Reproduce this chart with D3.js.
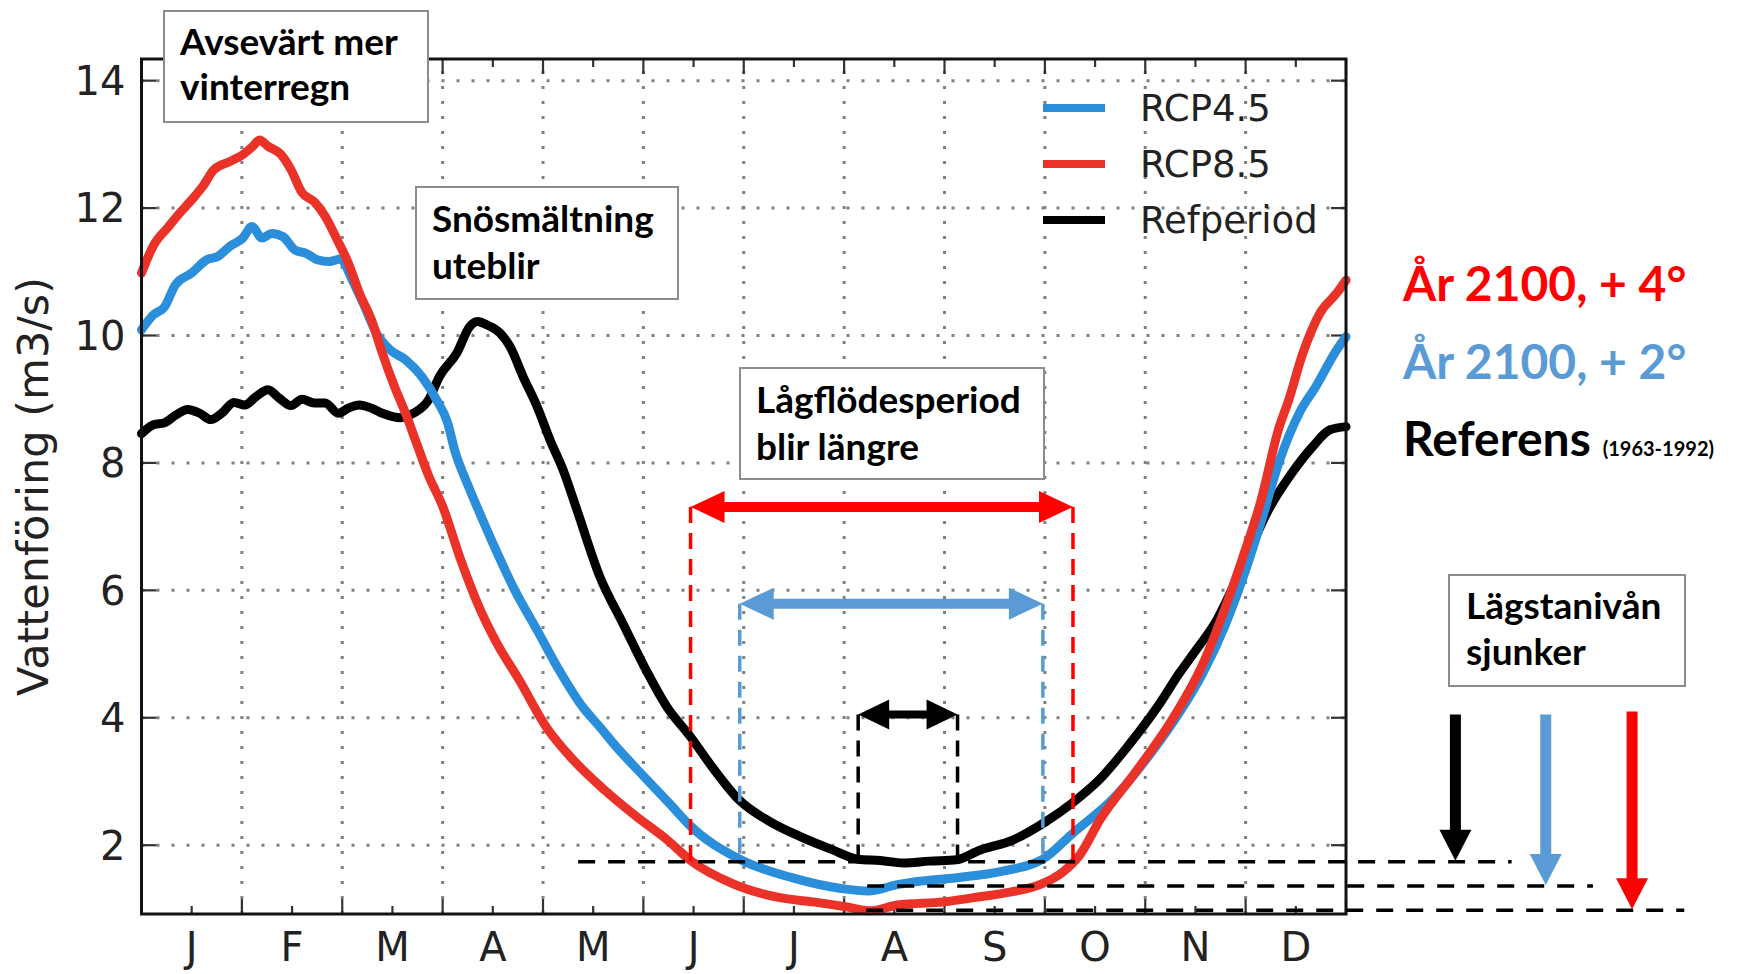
<!DOCTYPE html>
<html><head><meta charset="utf-8">
<script src="https://cdn.jsdelivr.net/npm/d3@7/dist/d3.min.js"></script>
<style>body{margin:0;background:#fff}svg{display:block}</style>
</head><body>
<svg id="c" width="1737" height="974"></svg>
<script>
// ---------- data ----------
const monthLabels = ["J","F","M","A","M","J","J","A","S","O","N","D"];
const yTicks = [2,4,6,8,10,12,14];
const seriesNames = ["RCP4.5","RCP8.5","Refperiod"];

// time in months since 1 Jan (0..12), discharge m3/s
const refT = [0,0.12,0.23,0.34,0.46,0.58,0.69,0.8,0.92,1.03,1.14,1.26,1.37,1.49,1.6,1.72,1.83,1.96,2.06,2.17,2.29,2.4,2.58,2.71,2.86,2.97,3.14,3.27,3.345,3.45,3.57,3.67,3.8,3.94,4.07,4.2,4.33,4.57,4.79,5.01,5.23,5.47,5.68,5.96,6.26,6.57,6.88,7.14,7.36,7.59,7.85,8.12,8.35,8.68,9.01,9.28,9.55,9.82,10.13,10.34,10.5,10.7,10.97,11.24,11.46,11.67,11.84,12];
const refV = [8.46,8.6,8.63,8.75,8.84,8.78,8.68,8.78,8.95,8.91,9.04,9.15,9.02,8.9,9.0,8.94,8.94,8.78,8.86,8.91,8.86,8.78,8.71,8.78,8.99,9.36,9.72,10.14,10.22,10.16,10.04,9.83,9.36,8.89,8.36,7.89,7.3,6.2,5.5,4.8,4.18,3.7,3.24,2.7,2.37,2.13,1.93,1.78,1.76,1.72,1.75,1.77,1.92,2.08,2.37,2.67,3.04,3.54,4.19,4.7,5.05,5.5,6.38,7.3,7.84,8.26,8.52,8.57];

const rcp45T = [0,0.115,0.23,0.34,0.5,0.65,0.76,0.88,1.01,1.1,1.2,1.3,1.41,1.53,1.64,1.75,1.87,1.98,2.1,2.21,2.35,2.48,2.63,2.79,2.94,3.05,3.12,3.25,3.37,3.5,3.72,3.94,4.16,4.39,4.57,4.7,5.01,5.28,5.45,5.96,6.48,6.97,7.24,7.53,7.68,8.12,8.57,8.98,9.28,9.68,10.04,10.34,10.57,10.79,10.97,11.15,11.33,11.54,11.7,11.91,12];
const rcp45V = [10.09,10.32,10.45,10.8,10.98,11.19,11.24,11.4,11.53,11.71,11.53,11.6,11.55,11.34,11.29,11.19,11.16,11.2,10.87,10.5,10.01,9.77,9.62,9.36,8.99,8.63,8.2,7.66,7.21,6.74,6.0,5.38,4.75,4.18,3.85,3.6,3.07,2.62,2.33,1.78,1.49,1.32,1.28,1.38,1.42,1.49,1.59,1.78,2.19,2.73,3.41,4.08,4.69,5.43,6.18,7.05,8.0,8.8,9.2,9.78,9.98];

const rcp85T = [0,0.115,0.27,0.38,0.5,0.61,0.72,0.88,1.01,1.11,1.175,1.26,1.39,1.49,1.6,1.72,1.83,1.95,2.06,2.17,2.29,2.4,2.52,2.63,2.74,2.86,3.0,3.18,3.36,3.54,3.76,4.03,4.3,4.61,4.93,5.24,5.47,5.9,6.35,6.69,7.03,7.26,7.53,7.99,8.35,8.68,8.95,9.18,9.35,9.55,9.9,10.26,10.57,10.79,10.97,11.15,11.33,11.43,11.57,11.74,11.91,12];
const rcp85V = [10.98,11.4,11.71,11.92,12.13,12.34,12.6,12.73,12.84,12.97,13.07,12.97,12.84,12.6,12.24,12.1,11.87,11.5,11.14,10.67,10.25,9.72,9.2,8.78,8.31,7.8,7.32,6.48,5.75,5.17,4.6,3.86,3.34,2.87,2.45,2.08,1.76,1.39,1.18,1.11,1.03,0.97,1.06,1.11,1.19,1.27,1.38,1.58,1.85,2.4,3.14,3.95,4.83,5.7,6.51,7.39,8.54,8.99,9.72,10.35,10.67,10.87];

// annotation values (data units)
const periodStart = [5.47, 5.96, 7.14];   // RCP8.5, RCP4.5, Ref
const periodEnd   = [9.28, 8.98, 8.13];
const periodLevel = [7.31, 5.79, 4.05];
const minLevels   = [1.74, 1.36, 0.98];   // Ref, RCP4.5, RCP8.5
const minLineFrom = [4.35, 7.23, 7.22];
const minLineTo   = [13.65, 14.46, 15.37];
const minArrowX   = [13.09, 13.99, 14.85];
const minArrowTop = [4.05, 4.05, 4.1];

// ---------- drawing ----------
const svg = d3.select("#c");
svg.append("rect").attr("width",1737).attr("height",974).attr("fill","#fff");
const L=141.5,R=1346,T=59,B=914;
const x = d3.scaleLinear().domain([0,12]).range([L,R]);
const y = d3.scaleLinear().domain([0.92,14.34]).range([B,T]);

const C_BLUE="#2a8edb", C_RED="#ea3228", C_BLACK="#000";
const A_RED="#ff0000", A_BLUE="#5b9bd5";

// grid
const grid = svg.append("g").attr("stroke","#808080").attr("stroke-width",3).attr("stroke-dasharray","3,12");
d3.range(1,12).forEach(m=>grid.append("line").attr("x1",x(m)).attr("x2",x(m)).attr("y1",B).attr("y2",T));
yTicks.forEach(v=>grid.append("line").attr("x1",L).attr("x2",R).attr("y1",y(v)).attr("y2",y(v)));

// ticks
const tk = svg.append("g").attr("stroke","#333").attr("stroke-width",2.2);
yTicks.forEach(v=>{
  tk.append("line").attr("x1",L).attr("x2",L+15).attr("y1",y(v)).attr("y2",y(v));
  tk.append("line").attr("x1",R).attr("x2",R-15).attr("y1",y(v)).attr("y2",y(v));
});
d3.range(0,13).forEach(m=>{
  tk.append("line").attr("x1",x(m)).attr("x2",x(m)).attr("y1",B).attr("y2",B-15);
  tk.append("line").attr("x1",x(m)).attr("x2",x(m)).attr("y1",T).attr("y2",T+15);
});
d3.range(0,12).forEach(m=>{
  tk.append("line").attr("x1",x(m+0.5)).attr("x2",x(m+0.5)).attr("y1",B).attr("y2",B-8);
  tk.append("line").attr("x1",x(m+0.5)).attr("x2",x(m+0.5)).attr("y1",T).attr("y2",T+8);
});

// curves
const line = d3.line().x(d=>x(d[0])).y(d=>y(d[1])).curve(d3.curveMonotoneX);
const series = [
  {t:refT,v:refV,c:C_BLACK},
  {t:rcp45T,v:rcp45V,c:C_BLUE},
  {t:rcp85T,v:rcp85V,c:C_RED}
];
series.forEach(s=>{
  svg.append("path").datum(s.t.map((t,i)=>[t,s.v[i]]))
    .attr("d",line).attr("fill","none").attr("stroke",s.c)
    .attr("stroke-width",9).attr("stroke-linejoin","round").attr("stroke-linecap","round");
});

// frame
svg.append("rect").attr("x",L).attr("y",T).attr("width",R-L).attr("height",B-T)
  .attr("fill","none").attr("stroke","#111").attr("stroke-width",3);

// tick labels
const lab = svg.append("g").attr("font-family","DejaVu Sans").attr("fill","#222");
yTicks.forEach(v=>lab.append("text").attr("x",L-16).attr("y",y(v)).attr("dy","0.36em")
  .attr("text-anchor","end").attr("font-size",40).text(v));
monthLabels.forEach((m,i)=>lab.append("text").attr("x",x(i+0.5)).attr("y",961)
  .attr("text-anchor","middle").attr("font-size",40).text(m));
lab.append("text").attr("transform",`translate(33,${(T+B)/2}) rotate(-90)`)
  .attr("text-anchor","middle").attr("dy","0.36em").attr("font-size",43).text("Vattenföring (m3/s)");

// legend
const legC=[C_BLUE,C_RED,C_BLACK], legY=[108,164,220];
seriesNames.forEach((n,i)=>{
  svg.append("line").attr("x1",1043).attr("x2",1105).attr("y1",legY[i]).attr("y2",legY[i])
    .attr("stroke",legC[i]).attr("stroke-width",8);
  svg.append("text").attr("x",1140).attr("y",legY[i]).attr("dy","0.36em")
    .attr("font-family","DejaVu Sans").attr("font-size",37).attr("fill","#222").text(n);
});

// annotations: dashed lines
const ann = svg.append("g");
const vcol=[A_RED,A_BLUE,"#000"];
periodStart.forEach((s,i)=>{
  [s,periodEnd[i]].forEach(t=>{
    ann.append("line").attr("x1",x(t)).attr("x2",x(t)).attr("y1",y(periodLevel[i])).attr("y2",y(minLevels[0]))
      .attr("stroke",vcol[i]).attr("stroke-width",3.5).attr("stroke-dasharray","16,10");
  });
});
minLevels.forEach((v,i)=>{
  ann.append("line").attr("x1",x(minLineFrom[i])).attr("x2",x(minLineTo[i])).attr("y1",y(v)).attr("y2",y(v))
    .attr("stroke","#000").attr("stroke-width",3.5).attr("stroke-dasharray","17,13");
});

function dbl(x1,x2,yy,s,hl,hw,col){
  const p=[[x1,yy],[x1+hl,yy-hw],[x1+hl,yy-s/2],[x2-hl,yy-s/2],[x2-hl,yy-hw],[x2,yy],[x2-hl,yy+hw],[x2-hl,yy+s/2],[x1+hl,yy+s/2],[x1+hl,yy+hw]];
  ann.append("polygon").attr("points",p.map(d=>d.join(",")).join(" ")).attr("fill",col);
}
function down(xx,y1,y2,s,hl,hw,col){
  const p=[[xx-s/2,y1],[xx+s/2,y1],[xx+s/2,y2-hl],[xx+hw,y2-hl],[xx,y2],[xx-hw,y2-hl],[xx-s/2,y2-hl]];
  ann.append("polygon").attr("points",p.map(d=>d.join(",")).join(" ")).attr("fill",col);
}
dbl(x(periodStart[0]),x(periodEnd[0]),y(periodLevel[0]),10,34,16,A_RED);
dbl(x(periodStart[1]),x(periodEnd[1]),y(periodLevel[1]),10,34,16,A_BLUE);
dbl(x(periodStart[2]),x(periodEnd[2]),y(periodLevel[2]),8,31,15,"#000");
const dcol=["#000",A_BLUE,A_RED];
minArrowX.forEach((t,i)=>down(x(t),y(minArrowTop[i]),y(minLevels[i])-1,11,31,16,dcol[i]));

// text boxes
function box(bx,by,bw,bh,tx,lines,base){
  svg.append("rect").attr("x",bx).attr("y",by).attr("width",bw).attr("height",bh)
    .attr("fill","#fff").attr("stroke","#8c8c8c").attr("stroke-width",2);
  lines.forEach((l,i)=>svg.append("text").attr("x",tx).attr("y",base[i])
    .attr("font-family","Lato").attr("font-weight",700).attr("font-size",37).attr("fill","#000").text(l));
}
box(164,11,264,111,180,["Avsevärt mer","vinterregn"],[55,100]);
box(416,187,262,112,432,["Snösmältning","uteblir"],[232,279]);
box(740,368,304,111,756,["Lågflödesperiod","blir längre"],[413,460]);
box(1449,575,236,111,1466,["Lägstanivån","sjunker"],[619,665]);

// right side labels
const rt = svg.append("g").attr("font-family","Lato").attr("font-weight",700);
rt.append("text").attr("x",1403).attr("y",301).attr("font-size",48).attr("fill",A_RED).text("År 2100, + 4°");
rt.append("text").attr("x",1403).attr("y",379).attr("font-size",48).attr("fill",A_BLUE).text("År 2100, + 2°");
const rf = rt.append("text").attr("x",1403).attr("y",456).attr("fill","#000");
rf.append("tspan").attr("font-size",48).text("Referens");
rf.append("tspan").attr("font-size",20).attr("dx",12).text("(1963-1992)");
</script>
</body></html>
